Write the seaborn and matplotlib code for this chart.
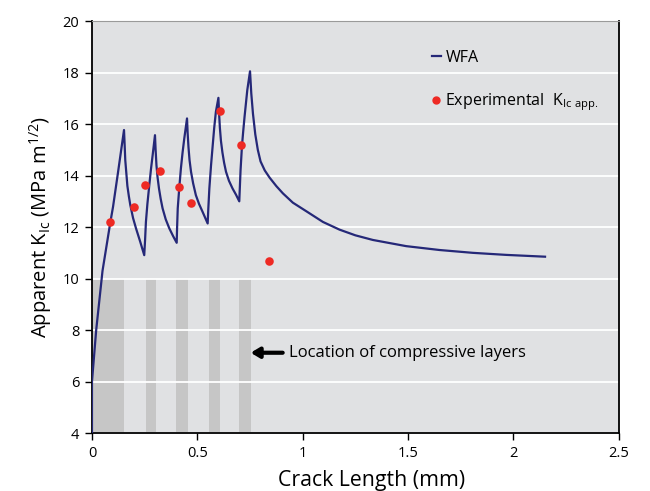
import matplotlib
matplotlib.use("Agg")
import matplotlib.pyplot as plt
from matplotlib.lines import Line2D
import pandas as pd
import seaborn as sns

# WFA model curve (rise / decay per layer)
crack_mm = [0, 0, 0.02, 0.05, 0.087, 0.1, 0.123, 0.152,
            0.155, 0.158, 0.163, 0.168, 0.175, 0.182, 0.195, 0.209, 0.229, 0.248,
            0.252, 0.256, 0.263, 0.272, 0.28, 0.288, 0.299,
            0.302, 0.306, 0.311, 0.318, 0.326, 0.335, 0.35, 0.367, 0.385, 0.402,
            0.404, 0.407, 0.414, 0.422, 0.43, 0.438, 0.451,
            0.454, 0.458, 0.463, 0.470, 0.480, 0.493, 0.508, 0.525, 0.549,
            0.552, 0.557, 0.565, 0.573, 0.58, 0.588, 0.600,
            0.603, 0.607, 0.612, 0.619, 0.627, 0.636, 0.650, 0.667, 0.684, 0.699,
            0.702, 0.705, 0.712, 0.718, 0.724, 0.737, 0.750,
            0.756, 0.764, 0.775, 0.787, 0.800, 0.82, 0.843, 0.875, 0.906, 0.953,
            1.02, 1.096, 1.175, 1.25, 1.333, 1.491, 1.649, 1.807, 1.966, 2.15]
wfa_k = [4, 6, 8, 10.3, 12.18, 12.79, 14.09, 15.77,
         15.2, 14.6, 14.1, 13.6, 13.2, 12.85, 12.35, 11.95, 11.43, 10.91,
         11.5, 12.2, 12.9, 13.63, 14.25, 14.8, 15.57,
         15.0, 14.4, 13.95, 13.5, 13.1, 12.73, 12.3, 11.95, 11.65, 11.39,
         12.0, 12.73, 13.5, 14.28, 14.9, 15.44, 16.22,
         15.65, 15.1, 14.6, 14.15, 13.7, 13.24, 12.9, 12.59, 12.14,
         12.7, 13.5, 14.4, 15.18, 15.85, 16.48, 17.02,
         16.45, 15.85, 15.35, 14.9, 14.5, 14.15, 13.8, 13.5, 13.25, 13.0,
         13.6, 14.2, 15.18, 15.75, 16.28, 17.32, 18.05,
         17.19, 16.4, 15.6, 15.0, 14.55, 14.2, 13.92, 13.59, 13.31, 12.95,
         12.6, 12.2, 11.9, 11.68, 11.50, 11.26, 11.11, 11.0, 10.92, 10.85]

# experimental points
exp_mm = [0.087, 0.199, 0.252, 0.324, 0.415, 0.470, 0.606, 0.709, 0.841]
exp_k = [12.18, 12.79, 13.63, 14.17, 13.55, 12.93, 16.52, 15.20, 10.69]

# compressive layers (start, width), shaded up to K = 10
layer_start = [0, 0.255, 0.40, 0.555, 0.70]
layer_width = [0.152, 0.05, 0.055, 0.053, 0.054]
layer_top = 10

NAVY = "#252878"
RED = "#ee2a24"

plt.rcParams["font.family"] = ["Open Sans", "DejaVu Sans"]
plt.rcParams["mathtext.fontset"] = "custom"
plt.rcParams["mathtext.rm"] = "Open Sans"
plt.rcParams["mathtext.it"] = "Open Sans"

fig = plt.figure(figsize=(6.5, 4.91), dpi=100)
ax = fig.add_axes([0.1415, 0.118, 0.8105, 0.839])
ax.set_facecolor("#e0e1e3")

ax.bar(layer_start, layer_top - 4, bottom=4, width=layer_width, align="edge",
       color="#c6c6c6", linewidth=0, zorder=0.3)

curve = pd.DataFrame({"x": crack_mm, "y": wfa_k})
sns.lineplot(data=curve, x="x", y="y", sort=False, estimator=None,
             color=NAVY, linewidth=1.6, ax=ax, zorder=3)

pts = pd.DataFrame({"x": exp_mm, "y": exp_k})
sns.scatterplot(data=pts, x="x", y="y", color=RED, s=38, linewidth=0,
                ax=ax, zorder=4)

ax.set_xlim(0, 2.5)
ax.set_ylim(4, 20)
ax.set_xticks([0, 0.5, 1, 1.5, 2, 2.5])
ax.set_xticklabels(["0", "0.5", "1", "1.5", "2", "2.5"])
ax.set_yticks(range(4, 21, 2))
ax.yaxis.grid(True, color="white", linewidth=1.3)
ax.xaxis.grid(False)
ax.set_axisbelow(True)

for side in ["left", "right", "bottom"]:
    ax.spines[side].set_color("black")
    ax.spines[side].set_linewidth(1.3)
ax.spines["top"].set_color("#9a9a9a")
ax.spines["top"].set_linewidth(0.8)
ax.tick_params(axis="both", direction="out", length=5, width=1,
               labelsize=10.5, colors="black", pad=4)

ax.set_xlabel("Crack Length (mm)", fontsize=15.3)
ax.xaxis.set_label_coords(0.53, -0.09)
ax.set_ylabel(r"Apparent K$_{\mathrm{Ic}}$ (MPa m$^{\mathrm{1/2}}$)",
              fontsize=14.5, labelpad=6)

handles = [Line2D([], [], color=NAVY, linewidth=1.6),
           Line2D([], [], color=RED, marker="o", markersize=5, linestyle="none")]
labels = ["WFA", r"Experimental  K$_{\mathrm{Ic\ app.}}$"]
ax.legend(handles, labels, loc="upper left", bbox_to_anchor=(0.645, 0.93),
          frameon=False, fontsize=11.5, handlelength=0.55, handletextpad=0.3,
          labelspacing=1.6, borderpad=0, borderaxespad=0)

ax.annotate("", xy=(0.753, 7.12), xytext=(0.905, 7.12),
            arrowprops=dict(arrowstyle="-|>,head_length=0.5,head_width=0.3",
                            lw=3, color="black", shrinkA=0, shrinkB=0))
ax.text(0.933, 7.12, "Location of compressive layers", fontsize=12,
        va="center", ha="left")

fig.savefig("out.png", dpi=100)
